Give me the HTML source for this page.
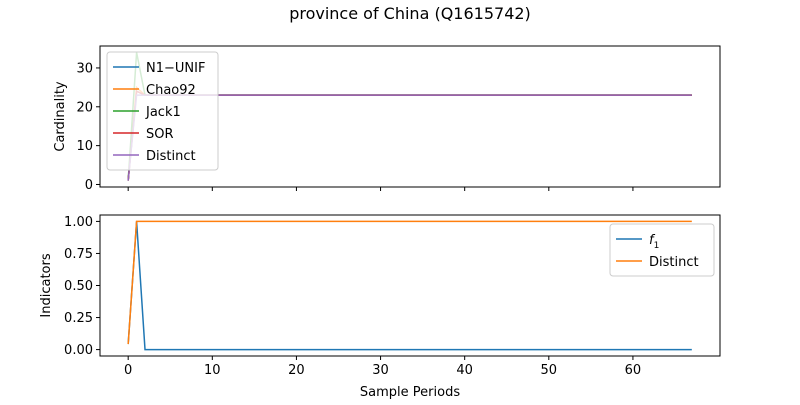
<!DOCTYPE html>
<html><head><meta charset="utf-8"><style>
body{margin:0;background:#fff;font-family:"Liberation Sans","DejaVu Sans",sans-serif}
svg text{font-family:"DejaVu Sans","Liberation Sans",sans-serif;font-size:13px;fill:#000}
</style></head><body>
<svg id="c" width="800" height="400"></svg>
<script>
const N = 68;
const distinct = [1].concat(Array(N-1).fill(23));
const n1unif = [1, 24].concat(Array(N-2).fill(23));
const chao92 = [1, 25].concat(Array(N-2).fill(23));
const jack1 = [1, 34].concat(Array(N-2).fill(23));
const sor = [1, 24].concat(Array(N-2).fill(23));
const f1 = [0.043, 1, 0].concat(Array(N-3).fill(0));
const distinctInd = [0.043].concat(Array(N-1).fill(1));
const xTicks = [0,10,20,30,40,50,60];
const topYTicks = [0,10,20,30];
const botYTicks = ["0.00","0.25","0.50","0.75","1.00"];

const svg = document.getElementById('c');
const NS = 'http://www.w3.org/2000/svg';
function el(t,a,p){const e=document.createElementNS(NS,t);for(const k in a)e.setAttribute(k,a[k]);(p||svg).appendChild(e);return e;}
const L=100,R=720;
const xmin=-0.05*(N-1), xmax=1.05*(N-1);
const X=v=>L+(v-xmin)/(xmax-xmin)*(R-L);
const T1=46,B1=187,T2=215,B2=356;
const Y1=v=>B1-(v+0.65)/36.3*(B1-T1);
const Y2=v=>B2-(v+0.05)/1.1*(B2-T2);

let t=el('text',{x:410,y:19,'text-anchor':'middle'});t.textContent='province of China (Q1615742)';t.style.fontSize='16px';



function line(arr,Y,color,name){
  const pts=arr.map((v,i)=>X(i).toFixed(2)+','+Y(v).toFixed(2)).join(' ');
  const p=el('polyline',{points:pts,fill:'none',stroke:color,'stroke-width':1.5});
  
  
}
function axes(T,B,Y,ticks,vals,ylabel,name,showX,ylx){
  const g=el('g',{});
  
  
  el('rect',{x:L,y:T,width:R-L,height:B-T,fill:'none',stroke:'#000','stroke-width':1},g);
  ticks.forEach((lab,i)=>{const y=Y(vals[i]);el('line',{x1:L-4,x2:L,y1:y,y2:y,stroke:'#000'},g);
    const tx=el('text',{x:L-7,y:y+4.5,'text-anchor':'end'},g);tx.textContent=lab;});
  xTicks.forEach(v=>{const x=X(v);el('line',{x1:x,x2:x,y1:B,y2:B+4,stroke:'#000'},g);
    if(showX){const tx=el('text',{x:x,y:B+18,'text-anchor':'middle'},g);tx.textContent=v;}});
  const yl=el('text',{x:0,y:0,'text-anchor':'middle',transform:`translate(${ylx},${(T+B)/2}) rotate(-90)`},g);yl.textContent=ylabel;
}
axes(T1,B1,Y1,topYTicks.map(String),topYTicks,'Cardinality','top-axes',false,64);
axes(T2,B2,Y2,botYTicks,botYTicks.map(Number),'Indicators','bottom-axes',true,50);
t=el('text',{x:410,y:396,'text-anchor':'middle'});t.textContent='Sample Periods';



line(n1unif,Y1,'#1f77b4','n1-unif-line');
line(chao92,Y1,'#ff7f0e','chao92-line');
line(jack1,Y1,'#2ca02c','jack1-line');
line(sor,Y1,'#d62728','sor-line');
line(distinct,Y1,'#9467bd','distinct-line');
line(f1,Y2,'#1f77b4','f1-line');
line(distinctInd,Y2,'#ff7f0e','distinct-indicator-line');

function legend(x,y,w,items,name){
  const g=el('g',{});
  
  
  el('rect',{x:x,y:y,width:w,height:items.length*22+8,rx:3,fill:'#fff','fill-opacity':0.8,stroke:'#ccc'},g);
  items.forEach((it,i)=>{const yy=y+15+i*22;
    el('line',{x1:x+6,x2:x+32,y1:yy,y2:yy,stroke:it[1],'stroke-width':1.5},g);
    const tx=el('text',{x:x+39,y:yy+5},g);
    if(it[0]==='f1'){tx.innerHTML='<tspan font-style="italic">f</tspan><tspan dy="4" font-size="9">1</tspan>';}
    else tx.textContent=it[0];});
}
legend(107,52,111,[['N1\u2212UNIF','#1f77b4'],['Chao92','#ff7f0e'],['Jack1','#2ca02c'],['SOR','#d62728'],['Distinct','#9467bd']],'top-legend');
legend(610,224,104,[['f1','#1f77b4'],['Distinct','#ff7f0e']],'bottom-legend');
</script>
</body></html>
